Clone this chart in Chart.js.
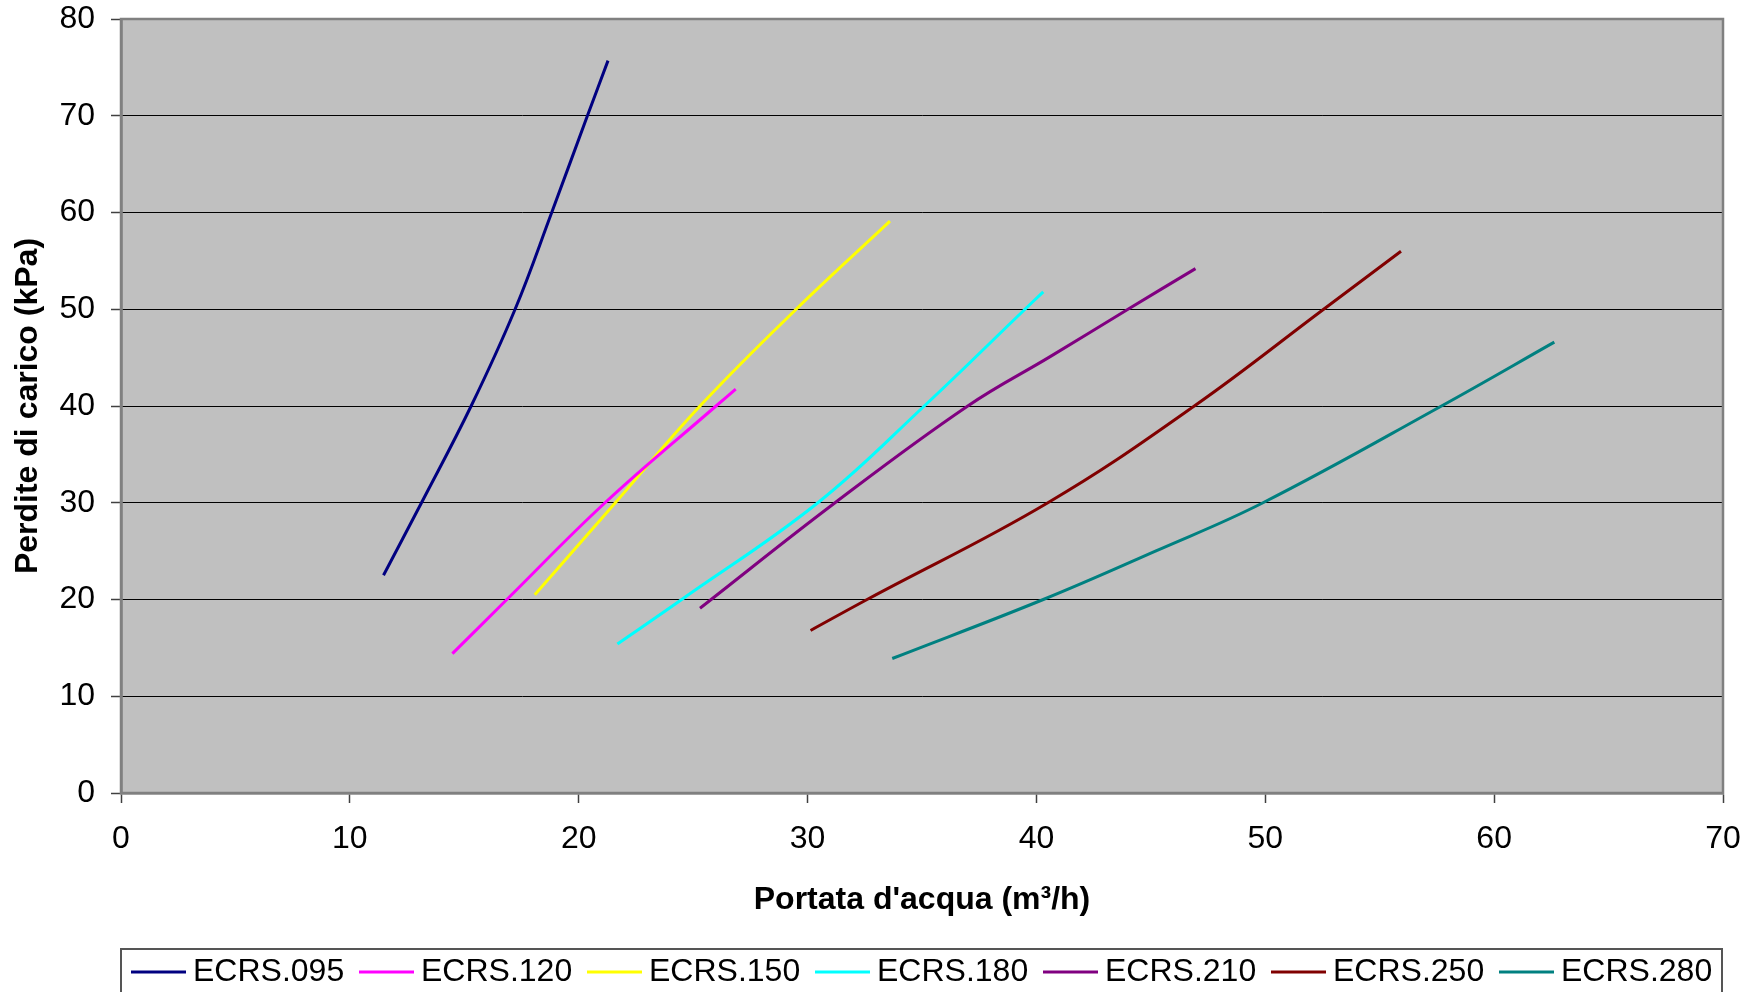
<!DOCTYPE html>
<html lang="it">
<head>
<meta charset="utf-8">
<title>Perdite di carico</title>
<script src="https://cdn.jsdelivr.net/npm/chart.js@4.4.1/dist/chart.umd.min.js"></script>
<style>
    html, body { margin: 0; padding: 0; background: #fff; }
    #wrap { width: 1763px; height: 992px; position: relative; }
</style>
</head>
<body>
<div id="wrap"><canvas id="lossChart"></canvas></div>
<script>
// Dati: portata (m3/h) e perdite di carico (kPa)
const seriesNames = ['ECRS.095', 'ECRS.120', 'ECRS.150', 'ECRS.180', 'ECRS.210', 'ECRS.250', 'ECRS.280'];
const seriesColors = ['#000080', '#FF00FF', '#FFFF00', '#00FFFF', '#800080', '#800000', '#008080'];

const flow095 = [11.47, 13.13, 15.3, 17.22, 18.82, 20.38, 21.28];
const loss095 = [22.5, 30, 40, 50, 60, 70, 75.7];
const flow120 = [14.48, 16.86, 21.15, 26.0, 26.86];
const loss120 = [14.4, 20, 30, 40, 41.75];
const flow150 = [18.08, 21.6, 25.3, 29.5, 33.6];
const loss150 = [20.5, 30, 40, 50, 59.1];
const flow180 = [21.69, 24.5, 30.45, 35.1, 39.5, 40.3];
const loss180 = [15.4, 20, 30, 40, 50, 51.8];
const flow210 = [25.3, 31.2, 37.0, 40.6, 44.0, 46.95];
const loss210 = [19.1, 30, 40, 45.1, 50, 54.2];
const flow250 = [30.13, 32.6, 40.5, 46.9, 52.55, 55.93];
const loss250 = [16.8, 20, 30, 40, 50, 56.0];
const flow280 = [33.7, 40.3, 45.2, 49.9, 57.7, 62.63];
const loss280 = [13.9, 20, 25, 30, 40, 46.6];

const xTicks = [0, 10, 20, 30, 40, 50, 60, 70];
const yTicks = [0, 10, 20, 30, 40, 50, 60, 70, 80];

const flows = [flow095, flow120, flow150, flow180, flow210, flow250, flow280];
const losses = [loss095, loss120, loss150, loss180, loss210, loss250, loss280];

const FONT = 'Liberation Sans, Arial, sans-serif';

// Sfondo grigio dell'area del grafico
const plotBackground = {
    id: 'plotBackground',
    beforeDraw(chart) {
        const { ctx, chartArea: a } = chart;
        ctx.save();
        ctx.fillStyle = '#C0C0C0';
        ctx.fillRect(a.left, a.top, a.right - a.left, a.bottom - a.top);
        ctx.restore();
    },
    afterDraw(chart) {
        const { ctx, chartArea: a } = chart;
        ctx.save();
        ctx.strokeStyle = '#808080';
        ctx.lineWidth = 2.5;
        ctx.strokeRect(a.left, a.top, a.right - a.left, a.bottom - a.top);
        ctx.restore();
    }
};

// Legenda in basso, disegnata a mano come nell'originale
const bottomLegend = {
    id: 'bottomLegend',
    afterDraw(chart) {
        const { ctx, chartArea: a } = chart;
        const top = 949;
        const lineY = 972;
        ctx.save();
        ctx.strokeStyle = '#555';
        ctx.lineWidth = 2;
        ctx.strokeRect(a.left, top, a.right - a.left - 1, 80);
        ctx.font = '32px ' + FONT;
        ctx.textBaseline = 'middle';
        ctx.textAlign = 'left';
        chart.data.datasets.forEach((ds, i) => {
            const x0 = 131 + 228 * i;
            ctx.strokeStyle = ds.borderColor;
            ctx.lineWidth = 3;
            ctx.beginPath();
            ctx.moveTo(x0, lineY);
            ctx.lineTo(x0 + 55, lineY);
            ctx.stroke();
            ctx.fillStyle = '#000';
            ctx.fillText(ds.label, x0 + 62, lineY);
        });
        ctx.restore();
    }
};

const datasets = seriesNames.map((name, i) => ({
    label: name,
    data: flows[i].map((x, j) => ({ x: x, y: losses[i][j] })),
    borderColor: seriesColors[i],
    backgroundColor: seriesColors[i],
    borderWidth: 3,
    pointRadius: 0,
    showLine: true,
    tension: 0.4
}));

new Chart(document.getElementById('lossChart'), {
    type: 'scatter',
    data: { datasets: datasets },
    plugins: [plotBackground, bottomLegend],
    options: {
        responsive: true,
        maintainAspectRatio: false,
        devicePixelRatio: 1,
        animation: false,
        layout: { padding: { top: 19, right: 40, left: 0, bottom: 0 } },
        plugins: {
            legend: { display: false },
            tooltip: { enabled: false }
        },
        scales: {
            x: {
                type: 'linear',
                min: xTicks[0],
                max: xTicks[xTicks.length - 1],
                afterFit: (scale) => {
                    scale.height = 199;
                    scale.paddingLeft = 0;
                    scale.paddingRight = 0;
                },
                afterBuildTicks: (scale) => { scale.ticks = xTicks.map(v => ({ value: v })); },
                ticks: {
                    color: '#000',
                    padding: 17,
                    maxRotation: 0,
                    font: { family: FONT, size: 32 }
                },
                grid: {
                    drawOnChartArea: false,
                    tickLength: 10,
                    tickColor: '#404040',
                    tickWidth: 1.5
                },
                border: { color: '#606060', width: 2.5 },
                title: {
                    display: true,
                    text: "Portata d'acqua (m³/h)",
                    color: '#000',
                    padding: { top: 0, bottom: 73 },
                    font: { family: FONT, size: 32, weight: 'bold' }
                }
            },
            y: {
                type: 'linear',
                min: yTicks[0],
                max: yTicks[yTicks.length - 1],
                afterFit: (scale) => {
                    scale.width = 121;
                    scale.paddingTop = 0;
                    scale.paddingBottom = 0;
                },
                afterBuildTicks: (scale) => { scale.ticks = yTicks.map(v => ({ value: v })); },
                ticks: {
                    color: '#000',
                    padding: 16,
                    font: { family: FONT, size: 32 }
                },
                grid: {
                    color: '#000',
                    lineWidth: 1,
                    tickLength: 10,
                    tickColor: '#404040',
                    tickWidth: 1.5
                },
                border: { color: '#606060', width: 2.5 },
                title: {
                    display: true,
                    text: 'Perdite di carico (kPa)',
                    color: '#000',
                    padding: { top: 9, bottom: 0 },
                    font: { family: FONT, size: 32, weight: 'bold' }
                }
            }
        }
    }
});
</script>
</body>
</html>
